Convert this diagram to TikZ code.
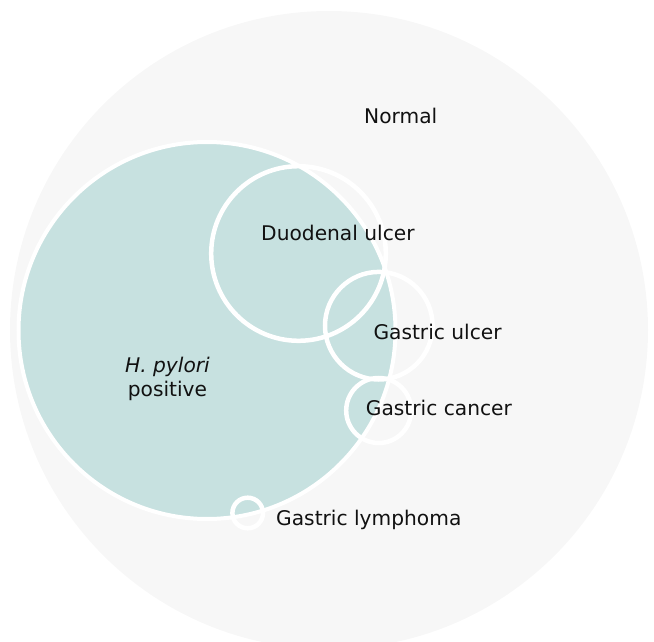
\documentclass[tikz,border=0pt]{standalone}
\usepackage{fontspec}
\setmainfont{DejaVu Sans}
\definecolor{bggray}{HTML}{F7F7F7}
\definecolor{teal1}{HTML}{C7E1E0}
\definecolor{txt}{HTML}{111111}
\tikzset{
  lbl/.style={anchor=base west, inner sep=0pt, text=txt, font=\fontsize{20.2pt}{24pt}\selectfont},
  lblc/.style={lbl, anchor=base},
  ring/.style={draw=white, line width=4.5pt},
}
\begin{document}
\begin{tikzpicture}[x=1pt,y=-1pt]
\useasboundingbox (0,0) rectangle (654,642);
\begin{scope}
\clip (0,0) rectangle (654,642);
\fill[bggray] (329,330) circle[radius=319pt];
\end{scope}
\filldraw[fill=teal1, draw=white, line width=4pt] (207,330.5) circle[radius=188.5pt];
\draw[ring] (298.5,253.5) circle[radius=87.3pt];
\draw[ring] (378.8,325.7) circle[radius=53.8pt];
\draw[ring] (378.7,410.5) circle[radius=32.5pt];
\draw[ring] (247.7,513) circle[radius=15.3pt];
\node[lbl] (normal) at (364,123.3) {Normal};
\node[lbl] (duo) at (261,240) {Duodenal ulcer};
\node[lbl] (gu) at (373.3,339) {Gastric ulcer};
\node[lblc] (hp) at (167.5,372.7) {\itshape H. pylori};
\node[lblc] (pos) at (167.5,396.5) {positive};
\node[lbl] (gc) at (365.7,415.7) {Gastric cancer};
\node[lbl] (gl) at (276,525) {Gastric lymphoma};
\end{tikzpicture}
\end{document}
